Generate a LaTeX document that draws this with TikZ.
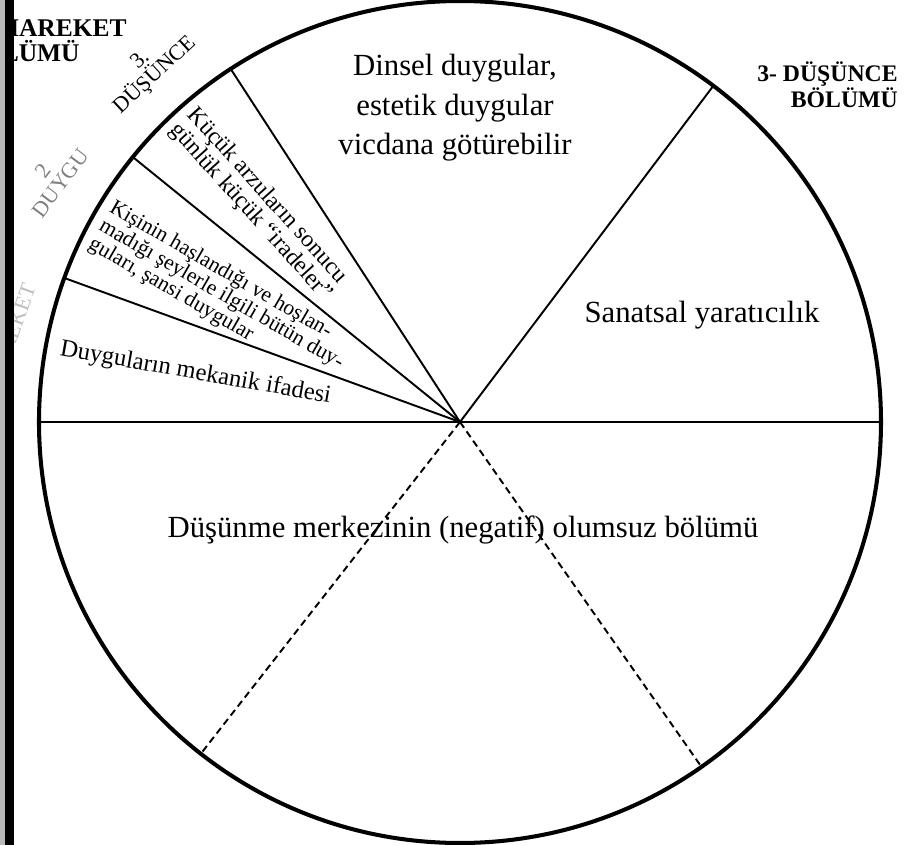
\documentclass[tikz,border=0pt]{standalone}
\usepackage{fontspec}
\setmainfont{Liberation Serif}[BoldFont={Liberation Serif Bold}]

\begin{document}
\begin{tikzpicture}[x=0.02cm,y=0.02cm,
    rim/.style={line width=2.3pt},
    spoke/.style={line width=1.1pt},
    hidden/.style={line width=1.1pt,dash pattern=on 4pt off 2.5pt},
    bigtext/.style={font=\fontsize{17.5}{22.5}\selectfont,align=center},
    smalltext/.style={align=left,inner sep=0pt,anchor=north west},
    outer/.style={font=\fontsize{12.5}{12}\selectfont,align=center,inner sep=0pt},
    part/.style={font=\bfseries\fontsize{14.5}{14}\selectfont,inner sep=0pt}]
    \useasboundingbox (-460,-423) rectangle (453,422) ;
    \coordinate (o) at (0,0) ;
    \foreach \a in {0,53,123,141,160,180} \coordinate (e\a) at (\a:421) ;
    \coordinate (d1) at (232:421) ;
    \coordinate (d2) at (305:421) ;
    \draw[rim] (o) circle [radius=421] ;
    \foreach \a in {53,123,141,160} \draw[spoke] (o) -- (e\a) ;
    \draw[spoke] (e180) -- (e0) ;
    \draw[hidden] (o) -- (d1) ;
    \draw[hidden] (o) -- (d2) ;
    \node[bigtext] (dinsel) at (-5,314) {Dinsel duygular,\\estetik duygular\\vicdana götürebilir} ;
    \node[bigtext] (sanat) at (242,107) {Sanatsal yaratıcılık} ;
    \node[bigtext] (negatif) at (3,-108) {Düşünme merkezinin (negatif) olumsuz bölümü} ;
    \node[smalltext,rotate=-10,font=\fontsize{14}{14}\selectfont] (mekanik) at (-398,84) {Duyguların mekanik ifadesi} ;
    \node[smalltext,rotate=-30,font=\fontsize{12.3}{12}\selectfont] (hoslan) at (-344,224) {Kişinin haşlandığı ve hoşlan-\\madığı şeylerle ilgili bütün duy-\\guları, şansi duygular} ;
    \node[smalltext,rotate=-48,font=\fontsize{13.5}{13}\selectfont] (irade) at (-261,318) {Küçük arzuların sonucu\\günlük küçük “iradeler”} ;
    \node[outer,rotate=43] (dusunce) at (-312,354) {3.\\DÜŞÜNCE} ;
    \node[outer,rotate=53,text=gray] (duygu) at (-408,245) {2\\DUYGU} ;
    \node[outer,rotate=70,text=gray!50] (hareket) at (-448,89) {HAREKET} ;
    \node[part,anchor=base east] (hareketust) at (-333,385) {HAREKET} ;
    \node[part,anchor=base east] (hareketalt) at (-380,360) {BÖLÜMÜ} ;
    \node[part,anchor=north east,align=right,font=\bfseries\fontsize{13.5}{14}\selectfont] (dusuncebolum) at (438,361) {3- DÜŞÜNCE\\BÖLÜMÜ} ;
    \fill[gray!55] (-460,-423) rectangle (-455,422) ;
    \fill[black] (-455,-423) rectangle (-446,422) ;
\end{tikzpicture}
\end{document}
